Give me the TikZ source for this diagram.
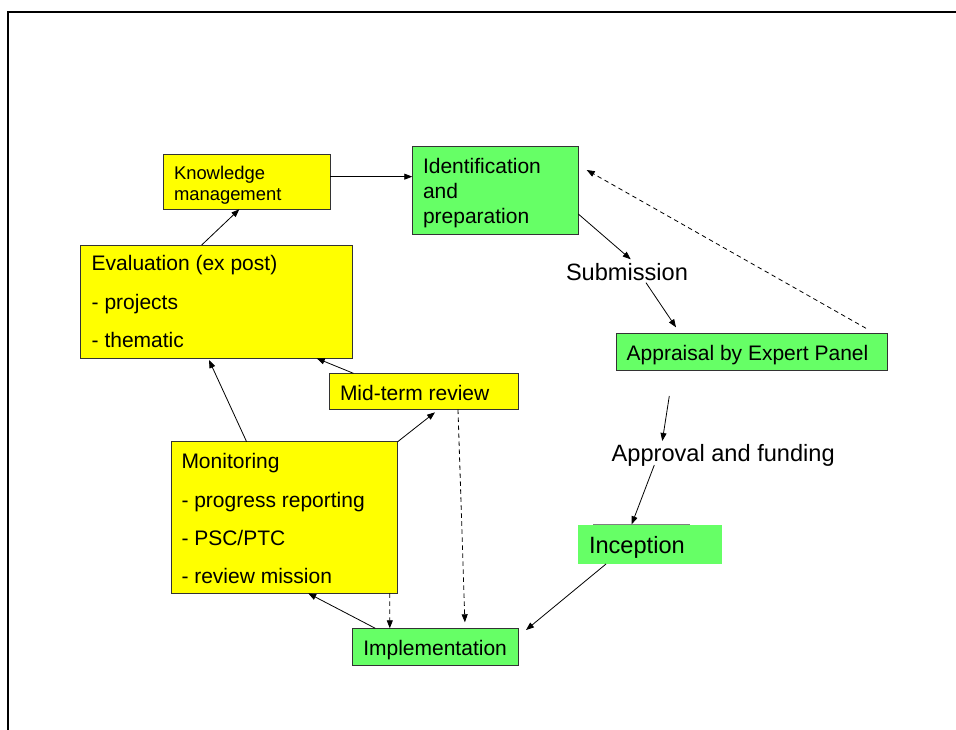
\documentclass[tikz,border=0pt]{standalone}
\usepackage{fontspec}
\setmainfont{Liberation Sans}
\usetikzlibrary{arrows.meta}
\definecolor{boxyellow}{HTML}{FFFF00}
\definecolor{boxgreen}{HTML}{66FF66}
\begin{document}
\begin{tikzpicture}[x=1pt,y=-1pt,
  box/.style={draw=black!80,line width=0.9pt,inner sep=0pt,outer sep=0pt},
  ybox/.style={box,fill=boxyellow},
  gbox/.style={box,fill=boxgreen},
  lbl/.style={anchor=base west,inner sep=0pt,outer sep=0pt,text=black},
  fs/.style={font=\fontsize{18.4}{22}\selectfont},
  fm/.style={font=\fontsize{21}{25}\selectfont},
  fl/.style={font=\fontsize{23.6}{28}\selectfont},
  arr/.style={line width=0.8pt,-{Triangle[length=8pt,width=6pt]}},
  darr/.style={arr,dash pattern=on 4.5pt off 3.5pt}]
\useasboundingbox (0,0) rectangle (956,729);
% outer frame
\draw[line width=2pt] (8,735) -- (8,12) -- (965,12);

% boxes
\node[ybox,minimum width=166.7pt,minimum height=55.3pt] (km)  at (246.65,181.65) {};
\node[gbox,minimum width=166pt,minimum height=88.3pt]   (idp) at (495.3,190.15) {};
\node[ybox,minimum width=271.8pt,minimum height=113.3pt] (eval) at (216.6,301.65) {};
\node[ybox,minimum width=188.9pt,minimum height=36.2pt] (mtr) at (423.85,391.4) {};
\node[ybox,minimum width=226.2pt,minimum height=151.6pt] (mon) at (284.6,517.5) {};
\node[gbox,minimum width=166.6pt,minimum height=36.7pt] (imp) at (435.3,646.65) {};
\node[gbox,minimum width=271.7pt,minimum height=36.7pt] (app) at (751.85,351.65) {};
\node[fill=boxgreen,inner sep=0pt,outer sep=0pt,minimum width=144pt,minimum height=39pt] (inc) at (650,544.5) {};
\draw[gray,line width=0.8pt] ([xshift=15pt,yshift=0.7pt]inc.north west) -- ([xshift=-32pt,yshift=0.7pt]inc.north east);

% texts
\node[lbl,fs] (kmA) at (174,179) {Knowledge};
\node[lbl,fs] (kmB) at (174,200) {management};
\node[lbl,fm] (idpA) at (423,173.3) {Identification};
\node[lbl,fm] (idpB) at (423,198.3) {and};
\node[lbl,fm] (idpC) at (423,223.3) {preparation};
\node[lbl,fm] (evA) at (91.7,270.7) {Evaluation (ex post)};
\node[lbl,fm] (evB) at (91.7,309.5) {- projects};
\node[lbl,fm] (evC) at (91.7,347.3) {- thematic};
\node[lbl,fm] (mtrT) at (340,400) {Mid-term review};
\node[lbl,fm] (monA) at (181.5,468.3) {Monitoring};
\node[lbl,fm] (monB) at (181.5,507) {- progress reporting};
\node[lbl,fm] (monC) at (181.5,545) {- PSC/PTC};
\node[lbl,fm] (monD) at (181.5,583.3) {- review mission};
\node[lbl,fm] (impT) at (363.3,655) {Implementation};
\node[lbl,fm] (appT) at (626.7,360) {Appraisal by Expert Panel};
\node[lbl,fl] (sub) at (566,280) {Submission};
\node[lbl,fl] (apf) at (611.7,461.7) {Approval and funding};
\node[lbl,fl] (incT) at (589,553.3) {Inception};

% connectors
\draw[arr] ([yshift=5pt]km.east) -- ([yshift=5pt]km.east -| idp.west);
\draw[arr] ([xshift=121pt]eval.north west) -- ([xshift=76pt]km.south west);
\draw[arr] ([yshift=20.3pt]idp.south east) -- ([xshift=64.7pt,yshift=20.7pt]sub.base west);
\draw[arr] ([xshift=80pt,yshift=-2.7pt]sub.base west) -- ([xshift=60pt,yshift=6pt]app.north west);
\draw[darr] ([xshift=250pt,yshift=5pt]app.north west) -- ([xshift=8.4pt,yshift=-24pt]idp.north east);
\draw[arr] ([xshift=53.3pt,yshift=-26pt]app.south west) -- ([xshift=50.6pt,yshift=20.7pt]apf.base west);
\draw[arr] ([xshift=42.6pt,yshift=-3.3pt]apf.base west) -- ([xshift=53.7pt,yshift=0.7pt]inc.north west);
\draw[arr] ([xshift=28pt]inc.south west) -- ([xshift=7.4pt,yshift=-1.7pt]imp.north east);
\draw[arr] ([xshift=23.3pt]imp.north west) -- ([xshift=136.7pt]mon.south west);
\draw[darr] ([xshift=218.3pt]mon.south west) -- ([xshift=37.8pt]imp.north west);
\draw[darr] ([xshift=128.6pt]mtr.south west) -- ([xshift=112.9pt,yshift=6pt]imp.north west);
\draw[arr] (mon.north east) -- ([xshift=105.6pt,yshift=-2.8pt]mtr.south west);
\draw[arr] ([xshift=75.1pt]mon.north west) -- ([xshift=128.3pt,yshift=-1.7pt]eval.south west);
\draw[arr] ([xshift=24pt]mtr.north west) -- ([xshift=236pt]eval.south west);
\end{tikzpicture}
\end{document}
